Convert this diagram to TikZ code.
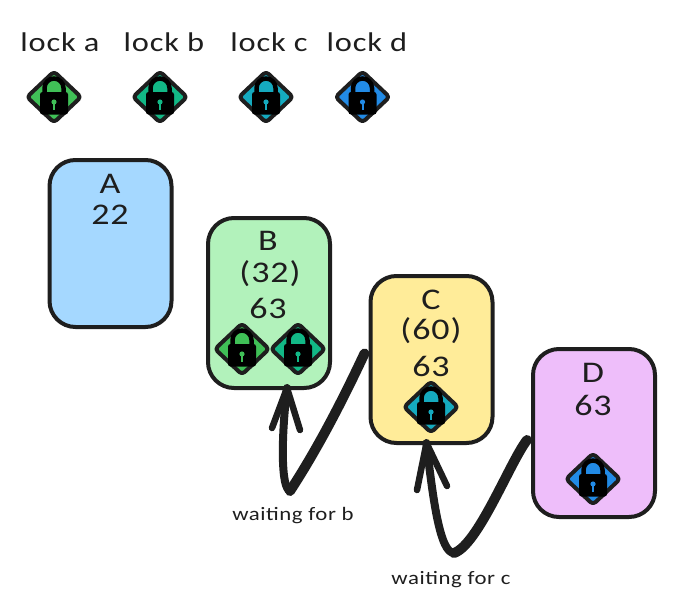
\documentclass[tikz,border=0pt]{standalone}
\usepackage{fontspec}
\setmainfont{Carlito}
\newfontfamily\hand[FakeStretch=1.2,LetterSpace=3]{Carlito}
\definecolor{ink}{HTML}{1E1E1E}
\definecolor{la}{HTML}{40C057}
\definecolor{lb}{HTML}{12B886}
\definecolor{lc}{HTML}{15AABF}
\definecolor{ld}{HTML}{228BE6}
\definecolor{fa}{HTML}{A5D8FF}
\definecolor{fb}{HTML}{B2F2BB}
\definecolor{fc}{HTML}{FFEC99}
\definecolor{fd}{HTML}{EEBEFA}
\tikzset{
  box/.style={draw=ink,line width=4pt,rounded corners=26pt,inner sep=0pt,minimum width=122pt,minimum height=167pt},
  big/.style={font=\hand\fontsize{30}{30}\selectfont,text=ink,inner sep=0pt},
  head/.style={font=\hand\fontsize{27}{27}\selectfont,text=ink,inner sep=0pt},
  small/.style={font=\hand\fontsize{19}{19}\selectfont,text=ink,inner sep=0pt},
  conn/.style={draw=ink,line cap=round,line join=round},
  pics/lock/.style={code={
    \draw[fill=#1,draw=ink,line width=4pt,rounded corners=3.5pt,line join=round]
      (-27,0)--(0,-25.5)--(27,0)--(0,25.5)--cycle;
    \draw[black,line width=4.5pt] (-9.5,-3) -- (-9.5,-9) arc[start angle=180,end angle=360,radius=9.5] -- (9.5,-3);
    \fill[black,rounded corners=2.5pt] (-14,-5) rectangle (14,17.5);
    \fill[#1] (0,5) circle[radius=2.6];
    \fill[#1] (-1,5) rectangle (1,13);
  }}
}
\begin{document}
\begin{tikzpicture}[x=1pt,y=-1pt]
\useasboundingbox (0,0) rectangle (682,613);
\node[head] (ta) at (60,42) {lock a};
\node[head] (tb) at (164,42) {lock b};
\node[head] (tc) at (269,42) {lock c};
\node[head] (td) at (367,42) {lock d};
\pic at (54,97) {lock=la};
\pic at (160,97) {lock=lb};
\pic at (266,97) {lock=lc};
\pic at (362.5,97) {lock=ld};

\node[box,fill=fa] (A) at (110.5,243.5) {};
\node[box,fill=fb,minimum height=170pt] (B) at (269,303) {};
\node[box,fill=fc] (C) at (431.5,359.5) {};
\node[box,fill=fd,minimum height=168pt] (D) at (594,433) {};

\node[big] (Aa) at (110,184) {A};
\node[big] (Ab) at (110,215) {22};
\node[big] (Ba) at (268,241) {B};
\node[big] (Bb) at (270,274) {(32)};
\node[big] (Bc) at (268,308) {63};
\node[big] (Ca) at (431,300) {C};
\node[big] (Cb) at (431,331) {(60)};
\node[big] (Cc) at (431,366) {63};
\node[big] (Da) at (593,373) {D};
\node[big] (Db) at (593,405) {63};

\pic at (242,349) {lock=la};
\pic at (298,349) {lock=lb};
\pic at (431,407) {lock=lc};
\pic at (593,479) {lock=ld};

% connectors
\coordinate (bend1) at (290,491);
\coordinate (bend2) at (454,553);
\coordinate (tip1) at ([xshift=18pt,yshift=2pt]B.south);
\coordinate (tip2) at ([xshift=-5pt,yshift=2pt]C.south);
\draw[conn,line width=10pt] ([xshift=-4pt,yshift=6pt]C.west) .. controls (345,395) and (320,445) .. (bend1);
\draw[conn,line width=8pt] (bend1) .. controls (281,488) and (281,440) .. (tip1);
\draw[conn,line width=6.5pt] (272,428) -- (tip1) -- (300,430);
\draw[conn,line width=10pt] ([xshift=-4pt,yshift=-7pt]D.west) .. controls (510,462) and (478,545) .. (bend2);
\draw[conn,line width=8pt] (bend2) .. controls (440,553) and (433,500) .. (tip2);
\draw[conn,line width=6.5pt] (417,490) -- (tip2) -- (447,486);

\node[small] (wb) at (293,516) {waiting for b};
\node[small] (wc) at (451,580) {waiting for c};
\end{tikzpicture}
\end{document}
